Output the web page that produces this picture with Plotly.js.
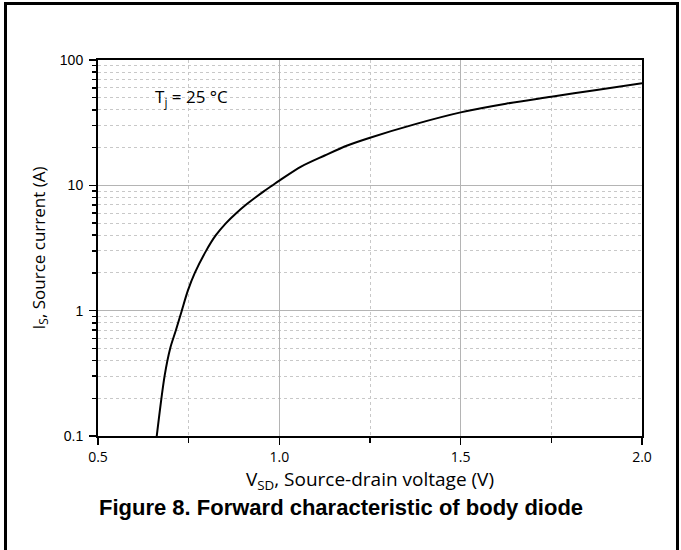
<!DOCTYPE html>
<html>
<head>
<meta charset="utf-8">
<script src="https://cdn.plot.ly/plotly-3.0.1.min.js"></script>
<style>
  html, body { margin: 0; padding: 0; background: #fff; }
  #chart { width: 681px; height: 550px; }
</style>
</head>
<body>
<div id="chart"></div>
<script>
// Forward characteristic of body diode, Tj = 25 °C
const vsd = [0.662, 0.684, 0.699, 0.715, 0.731, 0.748, 0.767, 0.798, 0.825, 0.853, 0.881, 0.908, 0.934, 0.958, 0.981, 1.0, 1.06, 1.125, 1.1875, 1.25, 1.375, 1.5, 1.625, 1.75, 1.875, 2.0];
const isd = [0.1, 0.306, 0.5, 0.7, 1.0, 1.45, 2.0, 3, 4, 5, 6, 7, 8, 9, 10, 10.9, 14.1, 17.3, 20.8, 24.0, 30.8, 38.2, 44.8, 50.9, 57.7, 65.1];

const xTickVals = [0.5, 1.0, 1.5, 2.0];
const xTickText = ['0.5', '1.0', '1.5', '2.0'];
const yTickVals = [0.1, 1, 10, 100];
const yTickText = ['0.1', '1', '10', '100'];

const W = 681, H = 550;
const M = {l: 98, r: 39, t: 60, b: 114};
const pw = W - M.l - M.r, ph = H - M.t - M.b;
const px = x => (x - M.l) / pw;
const py = y => (H - M.b - y) / ph;

const sans = '"Open Sans", "Segoe UI", sans-serif';
const arial = 'Arial, "Liberation Sans", sans-serif';

const trace = {
  x: vsd, y: isd, type: 'scatter', mode: 'lines',
  line: {color: '#000', width: 2, shape: 'spline', smoothing: 0.9},
  hoverinfo: 'skip', showlegend: false
};

const frame = {color: '#000', width: 3};
const layout = {
  width: W, height: H,
  margin: M,
  paper_bgcolor: '#fff', plot_bgcolor: '#fff',
  showlegend: false,
  xaxis: {
    range: [0.5, 2.0],
    tickvals: xTickVals, ticktext: xTickText,
    ticks: 'outside', ticklen: 7, tickwidth: 1.5, tickcolor: '#000',
    showline: true, linecolor: '#000', linewidth: 2, mirror: true,
    showgrid: true, gridcolor: '#b4b4b4', gridwidth: 1.5,
    zeroline: false,
    minor: {dtick: 0.25, tick0: 0.5, ticks: 'outside', ticklen: 5, tickwidth: 1.5, tickcolor: '#000',
            showgrid: true, gridcolor: '#c8c8c8', gridwidth: 1, griddash: 'dot'},
    tickfont: {family: sans, size: 14, color: '#000'},
    title: {text: 'V<sub>SD</sub>, Source-drain voltage (V)', font: {family: sans, size: 19, color: '#000'}, standoff: 3}
  },
  yaxis: {
    type: 'log',
    range: [-1, 2],
    tickvals: yTickVals, ticktext: yTickText,
    ticks: 'outside', ticklen: 7, tickwidth: 1.5, tickcolor: '#000',
    showline: true, linecolor: '#000', linewidth: 2, mirror: true,
    showgrid: true, gridcolor: '#b4b4b4', gridwidth: 1.5,
    zeroline: false,
    minor: {dtick: 'D1', ticks: 'outside', ticklen: 4, tickwidth: 1.5, tickcolor: '#000',
            showgrid: true, gridcolor: '#c8c8c8', gridwidth: 1, griddash: 'dot'},
    tickfont: {family: arial, size: 14, color: '#000'},
    ticklabelstandoff: 3,
    title: {text: 'I<sub>S</sub>, Source current (A)', font: {family: sans, size: 17, color: '#000'}, standoff: 10}
  },
  annotations: [
    {xref: 'paper', yref: 'paper', x: px(153), y: py(97), xanchor: 'left', yanchor: 'middle',
     text: 'T<sub>j</sub> = 25 °C', showarrow: false, font: {family: sans, size: 17, color: '#000'}},
    {xref: 'paper', yref: 'paper', x: px(340.5), y: py(507), xanchor: 'center', yanchor: 'middle',
     text: '<b>Figure 8. Forward characteristic of body diode</b>', showarrow: false,
     font: {family: arial, size: 22, color: '#000'}}
  ],
  shapes: [
    {type: 'line', xref: 'paper', yref: 'paper', x0: px(5.5), x1: px(5.5), y0: py(3.5), y1: py(560), line: frame},
    {type: 'line', xref: 'paper', yref: 'paper', x0: px(4), x1: px(679), y0: py(3.5), y1: py(3.5), line: frame},
    {type: 'line', xref: 'paper', yref: 'paper', x0: px(677.5), x1: px(677.5), y0: py(3.5), y1: py(560), line: frame}
  ]
};

Plotly.newPlot('chart', [trace], layout, {staticPlot: true, displayModeBar: false});
</script>
</body>
</html>
